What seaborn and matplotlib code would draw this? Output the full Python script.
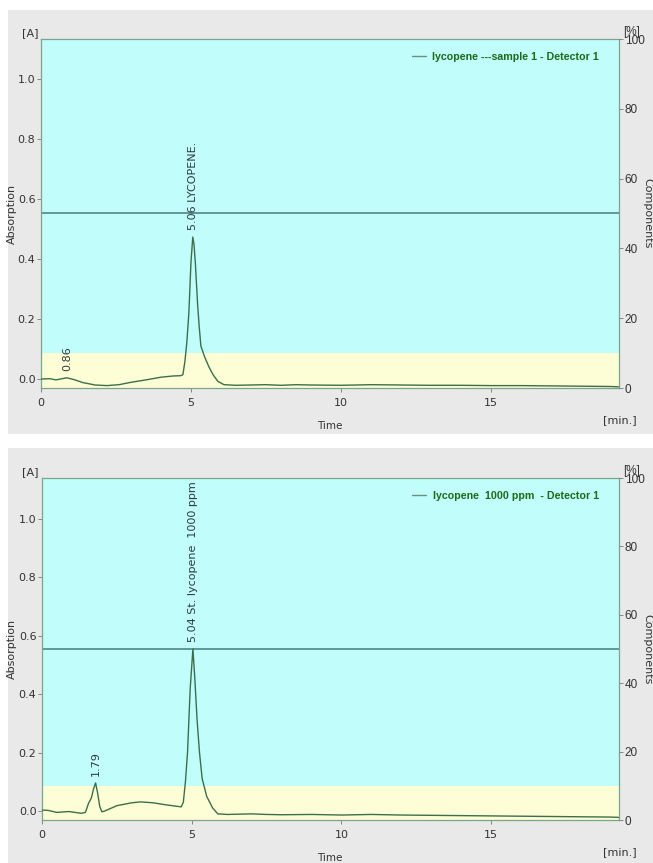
import matplotlib
matplotlib.use("Agg")
import matplotlib.pyplot as plt
from matplotlib.patches import Rectangle
import numpy as np
import pandas as pd
import seaborn as sns

# ---------------- data ----------------
time_top = [0.0, 0.3, 0.5, 0.86, 1.1, 1.4, 1.8, 2.2, 2.6, 3.0, 3.5, 4.0, 4.4, 4.65,
            4.73, 4.80, 4.86, 4.93, 5.00, 5.06, 5.10, 5.15, 5.22, 5.27, 5.33, 5.45,
            5.6, 5.75, 5.9, 6.1, 6.5, 7.0, 7.5, 8.0, 8.5, 9.0, 10.0, 11.0, 12.0,
            13.0, 14.0, 15.0, 16.0, 17.0, 18.0, 19.0, 19.25]
abs_top = [0.000, 0.001, -0.003, 0.004, -0.002, -0.012, -0.020, -0.022, -0.019, -0.011,
           -0.003, 0.006, 0.010, 0.011, 0.014, 0.06, 0.12, 0.22, 0.39, 0.473, 0.45,
           0.38, 0.25, 0.18, 0.11, 0.075, 0.04, 0.012, -0.008, -0.019, -0.021, -0.020,
           -0.019, -0.021, -0.019, -0.020, -0.021, -0.019, -0.020, -0.021, -0.021,
           -0.022, -0.022, -0.023, -0.024, -0.025, -0.026]

time_bot = [0.0, 0.2, 0.5, 0.9, 1.3, 1.45, 1.55, 1.65, 1.72, 1.79, 1.86, 1.93, 2.0,
            2.1, 2.5, 3.0, 3.3, 3.7, 4.2, 4.65, 4.72, 4.79, 4.86, 4.95, 5.04, 5.10,
            5.18, 5.26, 5.35, 5.5, 5.7, 5.87, 6.2, 7.0, 7.5, 8.0, 9.0, 10.0, 11.0,
            12.0, 13.0, 14.0, 15.0, 16.0, 17.0, 18.0, 19.0, 19.25]
abs_bot = [0.003, 0.002, -0.005, -0.002, -0.008, -0.005, 0.025, 0.045, 0.075, 0.096,
           0.06, 0.015, -0.003, 0.000, 0.018, 0.028, 0.031, 0.028, 0.020, 0.014, 0.03,
           0.10, 0.20, 0.42, 0.555, 0.46, 0.31, 0.20, 0.11, 0.05, 0.01, -0.010, -0.012,
           -0.010, -0.012, -0.013, -0.012, -0.014, -0.012, -0.014, -0.015, -0.016,
           -0.017, -0.018, -0.019, -0.020, -0.021, -0.022]

peaks_top_time = [0.86, 5.06]
peaks_top_height = [0.004, 0.473]
peaks_top_label = ["0.86", "5.06 LYCOPENE."]
peaks_bot_time = [1.79, 5.04]
peaks_bot_height = [0.096, 0.555]
peaks_bot_label = ["1.79", "5.04 St. lycopene  1000 ppm"]

legend_top = "lycopene ---sample 1 - Detector 1"
legend_bot = "lycopene  1000 ppm  - Detector 1"

threshold_top = 0.553
threshold_bot = 0.555
band_level = 0.085

xticks = [0, 5, 10, 15]
yticks_left = [0.0, 0.2, 0.4, 0.6, 0.8, 1.0]
yticks_right = [0, 20, 40, 60, 80, 100]

# ---------------- style ----------------
sns.set_style("white")
plt.rcParams["font.family"] = ["DejaVu Sans"]

W, H = 653, 863
fig = plt.figure(figsize=(W / 100, H / 100), dpi=100)
fig.patch.set_facecolor("white")

GRAY = "#e9e9e9"
CYAN = "#c1fdfb"
YELLOW = "#fdfed5"
SPINE = "#7aa58a"
TRACE = "#3d6e4c"
HLINE = "#5b8f8f"
LEGTXT = "#1a6b1a"
TXT = "#333333"

# gray panels
for (y0, y1) in [(10, 434), (448, 863)]:
    fig.patches.append(Rectangle((8 / W, 1 - y1 / H), (W - 8) / W, (y1 - y0) / H,
                                 transform=fig.transFigure, facecolor=GRAY,
                                 edgecolor="none", zorder=-10))


def px_axes(x0, y0, x1, y1):
    a = fig.add_axes([x0 / W, 1 - y1 / H, (x1 - x0) / W, (y1 - y0) / H])
    a.set_zorder(1)
    return a


def draw_panel(ax, t, a, ylim, thr, ptimes, pheights, plabels, legtext):
    ax.set_facecolor(CYAN)
    ax.axhspan(ylim[0], band_level, color=YELLOW, zorder=0.5, lw=0)
    ax.axhline(thr, color=HLINE, lw=1.3, zorder=1)
    df = pd.DataFrame({"Time": t, "Absorption": a})
    sns.lineplot(data=df, x="Time", y="Absorption", ax=ax, color=TRACE, lw=1.0,
                 label=legtext, zorder=3, sort=False)
    ax.set_xlim(0, 19.27)
    ax.set_ylim(*ylim)
    ax.set_xticks(xticks)
    ax.set_xticklabels([str(v) for v in xticks])
    ax.set_yticks(yticks_left)
    ax.set_yticklabels([f"{v:.1f}" for v in yticks_left])
    ax.tick_params(axis="both", direction="out", length=3, width=0.6, color="#777777",
                   labelsize=8, labelcolor=TXT, pad=1, left=True, bottom=True)
    ax.tick_params(axis="x", pad=4)
    for s in ax.spines.values():
        s.set_color(SPINE)
        s.set_linewidth(0.9)
    ax.set_xlabel("")
    ax.set_ylabel("")
    for tm, h, lab in zip(ptimes, pheights, plabels):
        ax.annotate(lab, (tm, h), xytext=(0, 5), textcoords="offset points",
                    rotation=90, ha="center", va="bottom", fontsize=8, color="#2b3b3b")
    leg = ax.legend(loc="upper right", frameon=False, handlelength=1.3,
                    handletextpad=0.6, borderaxespad=0.3, bbox_to_anchor=(0.978, 0.985),
                    prop={"family": ["Liberation Sans Narrow", "Liberation Sans"],
                          "weight": "bold", "size": 7.7})
    for tx in leg.get_texts():
        tx.set_color(LEGTXT)
    for ln in leg.get_lines():
        ln.set_color("#6f8f7f")
        ln.set_linewidth(1.0)
    ax2 = ax.twinx()
    ax2.set_ylim(0, 100)
    ax2.set_yticks(yticks_right)
    ax2.set_yticklabels([str(v) for v in yticks_right],
                        family=["Liberation Sans Narrow", "Liberation Sans"])
    ax2.tick_params(axis="y", direction="out", length=3, width=0.6, color="#777777",
                    labelsize=8.5, labelcolor=TXT, pad=1, right=True)
    for s in ax2.spines.values():
        s.set_visible(False)
    return ax2


# ---------------- top panel ----------------
ax1 = px_axes(41, 39, 619, 388)
draw_panel(ax1, time_top, abs_top, (-0.03, 1.133), threshold_top,
           peaks_top_time, peaks_top_height, peaks_top_label, legend_top)

# ---------------- bottom panel ----------------
ax2 = px_axes(42, 478, 619, 820)
draw_panel(ax2, time_bot, abs_bot, (-0.031, 1.14), threshold_bot,
           peaks_bot_time, peaks_bot_height, peaks_bot_label, legend_bot)


def ftext(x, y, s, **kw):
    fig.text(x / W, 1 - y / H, s, **kw)


for (top, bot) in [(39, 388), (478, 820)]:
    mid = (top + bot) / 2
    ftext(30, top - 6, "[A]", ha="center", va="center", fontsize=8, color=TXT)
    ftext(632, top - 7, "[%]", ha="center", va="center", fontsize=8.5, color=TXT,
          family=["Liberation Sans Narrow", "Liberation Sans"])
    ftext(12, mid, "Absorption", rotation=90, ha="center", va="center", fontsize=8,
          color=TXT)
    ftext(647, mid, "Components", rotation=-90, ha="center", va="center", fontsize=8,
          color=TXT)
    ftext(330, bot + 38, "Time", ha="center", va="center", fontsize=7.5, color=TXT)
    ftext(620, bot + 32, "[min.]", ha="center", va="center", fontsize=8, color=TXT)

fig.savefig("out.png", dpi=100, facecolor=fig.get_facecolor())
